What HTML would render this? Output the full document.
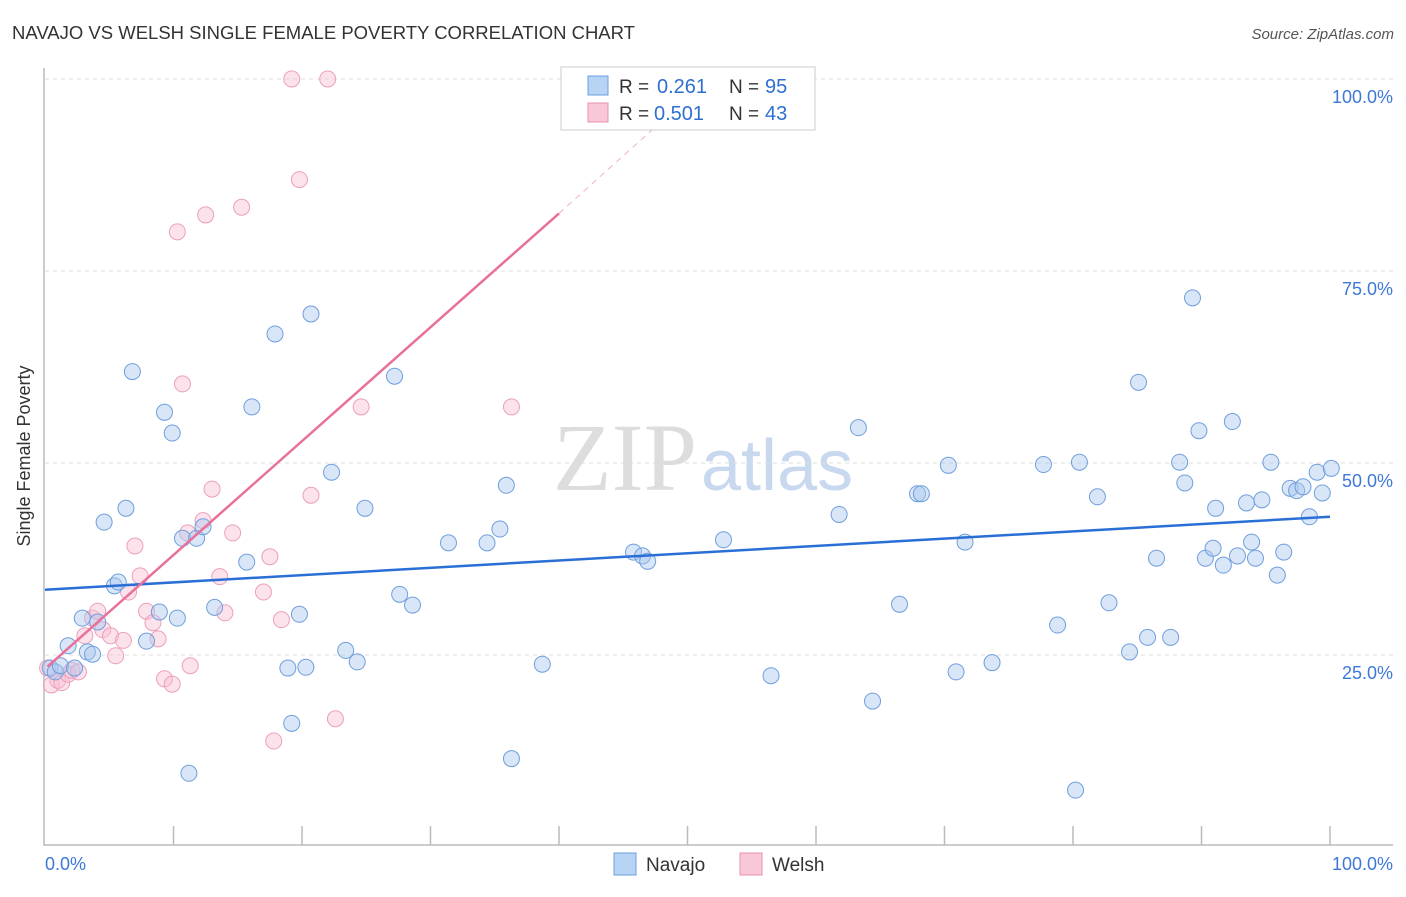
<!DOCTYPE html>
<html><head><meta charset="utf-8"><style>
body{margin:0;background:#fff;font-family:"Liberation Sans",sans-serif}
svg text{font-family:"Liberation Sans",sans-serif}
</style></head><body>
<svg width="1406" height="892" viewBox="0 0 1406 892" id="chart">
<text x="12" y="39" font-size="18.5" fill="#333">NAVAJO VS WELSH SINGLE FEMALE POVERTY CORRELATION CHART</text>
<text x="1394" y="39" font-size="15" fill="#555" text-anchor="end" font-style="italic">Source: ZipAtlas.com</text>
<text x="30" y="456" font-size="18" fill="#333" text-anchor="middle" transform="rotate(-90 30 456)">Single Female Poverty</text>
<text x="553" y="490" font-size="96" fill="#ddd"><tspan font-family="Liberation Serif">ZIP</tspan><tspan fill="#c8d8ef" font-size="72" font-family="Liberation Sans" dx="4">atlas</tspan></text>
<g id="grid"></g>
<g id="axes"></g>
<g id="marks"></g>
<g>
<rect x="561" y="67" width="254" height="63" fill="#fff" stroke="#ccc"/>
<rect x="588" y="76" width="20" height="19" fill="#b8d4f5" stroke="#6a9fe0"/>
<rect x="588" y="103" width="20" height="19" fill="#f8c8d8" stroke="#e890b0"/>
<text x="619" y="93" font-size="19" fill="#333">R = </text>
<text x="657" y="93" font-size="20" fill="#2f6fd0">0.261</text>
<text x="729" y="93" font-size="19" fill="#333">N = </text>
<text x="765" y="93" font-size="20" fill="#2f6fd0">95</text>
<text x="619" y="120" font-size="19" fill="#333">R = </text>
<text x="654" y="120" font-size="20" fill="#2f6fd0">0.501</text>
<text x="729" y="120" font-size="19" fill="#333">N = </text>
<text x="765" y="120" font-size="20" fill="#2f6fd0">43</text>
</g>
<g>
<rect x="614" y="853" width="22" height="22" fill="#b8d4f5" stroke="#6a9fe0"/>
<text x="646" y="871" font-size="19" fill="#333">Navajo</text>
<rect x="740" y="853" width="22" height="22" fill="#f8c8d8" stroke="#e890b0"/>
<text x="772" y="871" font-size="19" fill="#333">Welsh</text>
</g>
</svg>
<script>
const navX=[0.4,0.8,1.2,1.8,2.3,2.9,3.3,3.7,4.1,4.6,5.4,5.7,6.3,6.8,7.9,8.9,9.3,9.9,10.3,10.7,11.2,11.8,12.3,13.2,15.7,16.1,17.9,18.9,19.2,19.8,20.3,20.7,22.3,23.4,24.3,24.9,27.2,27.6,28.6,31.4,34.4,35.4,35.9,36.3,38.7,45.8,46.5,46.9,52.8,56.5,61.8,63.3,64.4,66.5,67.9,68.2,70.3,70.9,71.6,73.7,77.7,78.8,80.2,80.5,81.9,82.8,84.4,85.1,85.8,86.5,87.6,88.3,88.7,89.3,89.8,90.3,90.9,91.1,91.7,92.4,92.8,93.5,93.9,94.2,94.7,95.4,95.9,96.4,96.9,97.4,97.9,98.4,99.0,99.4,100.1];
const navY=[23.3,22.8,23.6,26.2,23.3,29.8,25.4,25.1,29.3,42.3,34.0,34.5,44.1,61.9,26.8,30.6,56.6,53.9,29.8,40.2,9.6,40.2,41.7,31.2,37.1,57.3,66.8,23.3,16.1,30.3,23.4,69.4,48.8,25.6,24.1,44.1,61.3,32.9,31.5,39.6,39.6,41.4,47.1,11.5,23.8,38.4,37.9,37.2,40.0,22.3,43.3,54.6,19.0,31.6,46.0,46.0,49.7,22.8,39.7,24.0,49.8,28.9,7.4,50.1,45.6,31.8,25.4,60.5,27.3,37.6,27.3,50.1,47.4,71.5,54.2,37.6,38.9,44.1,36.7,55.4,37.9,44.8,39.7,37.6,45.2,50.1,35.4,38.4,46.7,46.4,46.9,43.0,48.8,46.1,49.3];
const welX=[0.2,0.5,1.0,1.3,1.8,2.1,2.6,3.1,3.7,4.1,4.5,5.1,5.5,6.1,6.5,7.0,7.4,7.9,8.4,8.8,9.3,9.9,10.3,10.7,11.3,11.1,12.3,12.5,13.0,13.6,14.0,14.6,15.3,17.0,17.5,17.8,18.4,19.2,19.8,20.7,22.0,22.6,24.6,36.3];
const welY=[23.3,21.1,21.7,21.4,22.5,23.0,22.8,27.5,29.8,30.7,28.3,27.5,24.9,26.9,33.2,39.2,35.3,30.7,29.2,27.1,21.9,21.2,80.1,60.3,23.6,40.9,42.5,82.3,46.6,35.2,30.5,40.9,83.3,33.2,37.8,13.8,29.6,100,86.9,45.8,100,16.7,57.3,57.3];
const X=v=>45+v*12.85, Y=v=>847-v*7.68;
const NS="http://www.w3.org/2000/svg";
function mk(t,a,p){const e=document.createElementNS(NS,t);for(const k in a)e.setAttribute(k,a[k]);p.appendChild(e);return e;}
const grid=document.getElementById('grid'),axes=document.getElementById('axes'),marks=document.getElementById('marks');
const yTicks=[25,50,75,100],yLab=["25.0%","50.0%","75.0%","100.0%"];
yTicks.forEach((v,i)=>{const l=mk('line',{x1:45,x2:1393,y1:Y(v),y2:Y(v),stroke:'#ddd','stroke-dasharray':'4,4'},grid);


const t=mk('text',{x:1393,y:Y(v)+24,'font-size':18,fill:'#3d78d8','text-anchor':'end'},axes);t.textContent=yLab[i];

});
const ax=mk('path',{d:'M44 68V845H1393',stroke:'#bbb',fill:'none','stroke-width':1.5},axes);


for(let i=1;i<=10;i++){const t=mk('line',{x1:X(i*10),x2:X(i*10),y1:826,y2:845,stroke:'#bbb','stroke-width':1.5},axes);

}
[[45,'start','0.0%'],[1393,'end','100.0%']].forEach(a=>{const t=mk('text',{x:a[0],y:870,'font-size':18,fill:'#3d78d8','text-anchor':a[1]},axes);t.textContent=a[2];

});
welX.forEach((x,i)=>{const c=mk('circle',{cx:X(x),cy:Y(welY[i]),r:8,fill:'rgba(248,190,210,0.45)',stroke:'#eba0bc','stroke-width':1},marks);

});
navX.forEach((x,i)=>{const c=mk('circle',{cx:X(x),cy:Y(navY[i]),r:8,fill:'rgba(170,200,240,0.45)',stroke:'#6f9fdc','stroke-width':1},marks);

});
const bl=mk('line',{x1:X(0),y1:Y(33.5),x2:X(100),y2:Y(43),stroke:'#2a6fd6','stroke-width':2.5},marks);


const pl=mk('line',{x1:X(0.2),y1:Y(23.5),x2:X(40),y2:Y(82.5),stroke:'#e8719a','stroke-width':2.5},marks);


const pd=mk('line',{x1:X(40),y1:Y(82.5),x2:X(48),y2:Y(94.5),stroke:'#f0b0c5','stroke-width':1,'stroke-dasharray':'6,5'},marks);


</script>
</body></html>
